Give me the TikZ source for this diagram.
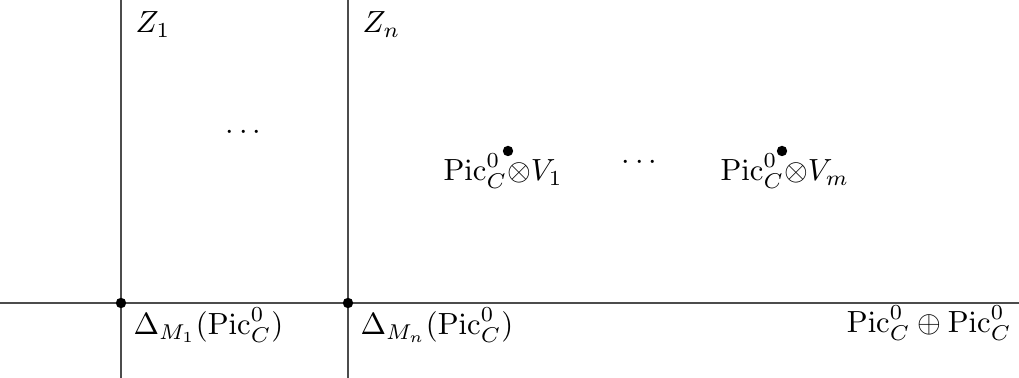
\documentclass[tikz,border=0pt]{standalone}
\usepackage{amsmath,amssymb}
\usepackage{tikz}
\usetikzlibrary{positioning}

\begin{document}
\begin{tikzpicture}[x=0.957cm, y=0.957cm,
  axis/.style={draw=black!70, line width=0.4pt},
  pt/.style={circle, fill=black, inner sep=0pt, minimum size=3.4pt},
  lab/.style={inner sep=0pt, anchor=base west}
]
  \useasboundingbox (0,0) rectangle (12.228,4.536);

  % Lines
  \coordinate (top1) at (1.452,4.536);
  \coordinate (bot1) at (1.452,0);
  \coordinate (top2) at (4.176,4.536);
  \coordinate (bot2) at (4.176,0);
  \coordinate (left) at (0,0.9);
  \coordinate (right) at (12.228,0.9);
  \draw[axis] (top1) -- (bot1);
  \draw[axis] (top2) -- (bot2);
  \draw[axis] (left) -- (right);

  % Points
  \node[pt] (p1) at (1.452,0.9) {};
  \node[pt] (p2) at (4.176,0.9) {};
  \node[pt] (q1) at (6.096,2.724) {};
  \node[pt] (qm) at (9.384,2.724) {};

  % Labels
  \node[lab] (z1) at (1.62,4.14) {$Z_1$};
  \node[lab] (zn) at (4.344,4.14) {$Z_n$};
  \node[inner sep=0pt, anchor=base] (dots1) at (2.952,2.856) {$\cdots$};
  \node[lab] (v1) at (5.316,2.364) {$\mathrm{Pic}^0_C{\otimes}V_1$};
  \node[inner sep=0pt, anchor=base] (dots2) at (7.704,2.496) {$\cdots$};
  \node[lab] (vm) at (8.64,2.364) {$\mathrm{Pic}^0_C{\otimes}V_m$};
  \node[lab] (d1) at (1.596,0.516) {$\Delta_{M_1}(\mathrm{Pic}^0_C)$};
  \node[lab] (dn) at (4.32,0.516) {$\Delta_{M_n}(\mathrm{Pic}^0_C)$};
  \node[inner sep=0pt, anchor=base east] (sum) at (12.144,0.54) {$\mathrm{Pic}^0_C\oplus\mathrm{Pic}^0_C$};

\end{tikzpicture}
\end{document}
